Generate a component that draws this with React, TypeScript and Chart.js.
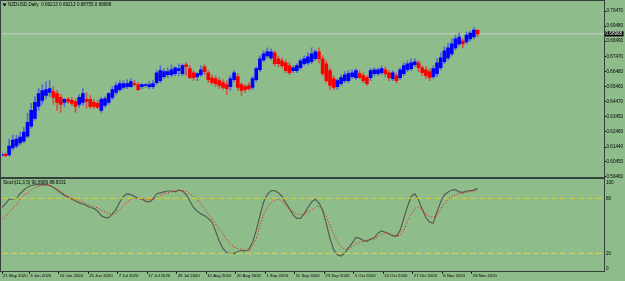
import React, { useEffect, useRef } from "react";
import { Chart, registerables } from "chart.js";

Chart.register(...registerables);

// ---------- data (NZDUSD Daily, 22 May 2020 .. 19 Nov 2020) ----------
const openP = [
  0.6088, 0.6095, 0.6091, 0.6138, 0.6151, 0.6171, 0.6184, 0.6217, 0.6283, 0.6335,
  0.6414, 0.6454, 0.6487, 0.6507, 0.6513, 0.65, 0.6474, 0.6441, 0.6461, 0.6454,
  0.6447, 0.6428, 0.6441, 0.6461, 0.6461, 0.6441, 0.6434, 0.6388, 0.6421, 0.6441,
  0.6474, 0.6507, 0.6526, 0.654, 0.6546, 0.6546, 0.6566, 0.6559, 0.6546, 0.6553,
  0.6546, 0.6546, 0.6572, 0.6586, 0.6612, 0.6625, 0.6625, 0.6632, 0.6652, 0.6632,
  0.6691, 0.6665, 0.6638, 0.6612, 0.6625, 0.6678, 0.6638, 0.6605, 0.6599, 0.6586,
  0.6572, 0.6559, 0.6546, 0.6592, 0.6612, 0.6559, 0.6546, 0.6553, 0.654, 0.6592,
  0.6658, 0.6724, 0.675, 0.6737, 0.677, 0.6731, 0.6718, 0.6704, 0.6685, 0.6652,
  0.6652, 0.6671, 0.6698, 0.6704, 0.6711, 0.6731, 0.6777, 0.6731, 0.6698, 0.6652,
  0.6599, 0.6546, 0.6566, 0.6586, 0.6586, 0.6612, 0.6606, 0.6632, 0.6619, 0.6606,
  0.6606, 0.6632, 0.6632, 0.6638, 0.6658, 0.6638, 0.6599, 0.6619, 0.6606, 0.6632,
  0.6658, 0.6665, 0.6691, 0.6704, 0.6671, 0.6658, 0.6645, 0.6612, 0.6632, 0.6671,
  0.6711, 0.6737, 0.6764, 0.6803, 0.683, 0.6849, 0.6843, 0.6863, 0.6876, 0.69213,
];
const highP = [
  0.6111, 0.6105, 0.6197, 0.6223, 0.6223, 0.6243, 0.6276, 0.6368, 0.6434, 0.648,
  0.6533, 0.6559, 0.6579, 0.6586, 0.6546, 0.652, 0.6493, 0.6467, 0.6474, 0.6474,
  0.6461, 0.6493, 0.6533, 0.6507, 0.6487, 0.6461, 0.6454, 0.6474, 0.648, 0.6507,
  0.6546, 0.6572, 0.6586, 0.6586, 0.6592, 0.6599, 0.6586, 0.6572, 0.6566, 0.6566,
  0.6579, 0.6586, 0.6652, 0.6685, 0.6665, 0.6671, 0.6691, 0.6678, 0.6698, 0.6698,
  0.6704, 0.6685, 0.6652, 0.6638, 0.6685, 0.6691, 0.6652, 0.6625, 0.6619, 0.6605,
  0.6592, 0.6586, 0.6619, 0.6652, 0.6632, 0.6572, 0.6559, 0.6572, 0.6612, 0.6678,
  0.675, 0.6783, 0.6803, 0.6797, 0.6783, 0.675, 0.6737, 0.6724, 0.6704, 0.6685,
  0.6698, 0.6731, 0.675, 0.677, 0.6803, 0.679, 0.6803, 0.675, 0.6718, 0.6665,
  0.6619, 0.6599, 0.6625, 0.6645, 0.6652, 0.6658, 0.6665, 0.6652, 0.6638, 0.6619,
  0.6665, 0.6671, 0.6671, 0.6685, 0.6678, 0.6652, 0.6652, 0.6638, 0.6671, 0.6704,
  0.6718, 0.6731, 0.6731, 0.6718, 0.6685, 0.6678, 0.6665, 0.6685, 0.6731, 0.677,
  0.681, 0.6836, 0.6863, 0.6889, 0.6902, 0.6863, 0.6909, 0.6915, 0.6942, 0.69213,
];
const lowP = [
  0.6078, 0.6078, 0.6085, 0.6124, 0.6138, 0.6157, 0.6171, 0.6204, 0.6269, 0.6322,
  0.6388, 0.6428, 0.6467, 0.648, 0.6428, 0.6388, 0.6375, 0.6414, 0.6434, 0.6421,
  0.6375, 0.6408, 0.6421, 0.6401, 0.6401, 0.6401, 0.6401, 0.6375, 0.6408, 0.6428,
  0.6461, 0.6493, 0.6513, 0.6526, 0.6533, 0.654, 0.6553, 0.652, 0.6533, 0.654,
  0.6533, 0.6533, 0.6559, 0.6572, 0.6599, 0.6605, 0.6612, 0.6619, 0.6619, 0.6619,
  0.6619, 0.6599, 0.6586, 0.6586, 0.6612, 0.6625, 0.6572, 0.6559, 0.6546, 0.6533,
  0.6526, 0.6493, 0.652, 0.6579, 0.652, 0.6487, 0.6507, 0.652, 0.6526, 0.6579,
  0.6645, 0.6711, 0.6737, 0.6724, 0.6685, 0.6678, 0.6671, 0.6638, 0.6625, 0.6638,
  0.6638, 0.6658, 0.6685, 0.6691, 0.6698, 0.6718, 0.6704, 0.6619, 0.6572, 0.6526,
  0.6526, 0.6526, 0.6553, 0.6572, 0.6572, 0.6599, 0.6592, 0.6599, 0.6572, 0.6553,
  0.6586, 0.6619, 0.6619, 0.6625, 0.6612, 0.6586, 0.6586, 0.6572, 0.6592, 0.6619,
  0.6645, 0.6652, 0.6678, 0.6645, 0.6619, 0.6599, 0.6586, 0.6599, 0.6612, 0.6658,
  0.6698, 0.6724, 0.675, 0.679, 0.6816, 0.6803, 0.683, 0.6849, 0.6863, 0.68755,
];
const closeP = [
  0.6095, 0.6086, 0.6151, 0.619, 0.6197, 0.621, 0.6243, 0.6309, 0.6388, 0.6441,
  0.65, 0.652, 0.6526, 0.6533, 0.6474, 0.6441, 0.6428, 0.6461, 0.6447, 0.6434,
  0.6414, 0.6474, 0.65, 0.6447, 0.6414, 0.6414, 0.6408, 0.6461, 0.6467, 0.65,
  0.6526, 0.6553, 0.6566, 0.6566, 0.6566, 0.6579, 0.6559, 0.6526, 0.6559, 0.6559,
  0.6559, 0.6566, 0.6638, 0.6652, 0.6645, 0.6645, 0.6658, 0.6671, 0.6665, 0.6685,
  0.6678, 0.6606, 0.6606, 0.6632, 0.6658, 0.6645, 0.6592, 0.6572, 0.6566, 0.6553,
  0.654, 0.6533, 0.6599, 0.6638, 0.654, 0.652, 0.6526, 0.6533, 0.6599, 0.6665,
  0.6731, 0.6764, 0.6777, 0.6777, 0.6698, 0.6698, 0.6685, 0.6652, 0.6638, 0.6671,
  0.6685, 0.6718, 0.6731, 0.6744, 0.6764, 0.6777, 0.6731, 0.6632, 0.6586, 0.6553,
  0.654, 0.6586, 0.6606, 0.6625, 0.6632, 0.6638, 0.6652, 0.6606, 0.6586, 0.6566,
  0.6652, 0.6658, 0.6658, 0.6665, 0.6632, 0.6606, 0.6638, 0.6586, 0.6658, 0.6685,
  0.6698, 0.6704, 0.6711, 0.6671, 0.6638, 0.6619, 0.6606, 0.6665, 0.6704, 0.6737,
  0.6783, 0.6803, 0.683, 0.6863, 0.6876, 0.683, 0.6889, 0.6902, 0.6922, 0.68968,
];
const stochK = [
  70, 74, 79, 79, 80, 85, 89, 92, 94, 95,
  95, 95, 95, 94, 92, 89, 86, 83, 81, 79,
  77, 75, 74, 72, 70, 69, 66, 61, 59, 59,
  63, 68, 76, 82, 85, 84, 82, 80, 79, 77,
  76, 79, 85, 86, 87, 88, 88, 87, 89, 88,
  84, 77, 70, 66, 63, 61, 58, 54, 44, 33,
  25, 21, 20, 20, 22, 23, 22.5, 24, 32, 45,
  61, 76, 84, 88.5, 88.5, 86, 82, 75, 69, 62,
  58, 58, 63, 70, 76, 79, 75, 67, 52, 36,
  24, 18.5, 17, 20, 26, 31, 37, 36.5, 34, 33,
  35.5, 37, 42, 44.5, 43, 41, 39, 38.5, 45, 58,
  71, 82, 85, 78, 68, 59, 54, 53, 65, 76,
  84, 87, 89, 89.5, 87, 86.5, 88, 88.5, 89, 90.8989,
];
const stochD = [
  56, 60, 65, 69, 73, 79, 83, 86, 89, 92,
  93, 94.5, 94.5, 94, 92, 90, 87, 85, 82, 80,
  79, 77, 76, 74, 72, 71, 69.5, 67, 65, 63,
  62.5, 64, 68, 72, 76, 79, 80, 80, 80, 79,
  78.5, 79, 81, 83, 85, 86, 87, 88, 88.5, 88,
  87.5, 85, 82, 79, 74, 68, 63, 58, 52, 46,
  41, 35, 30, 26.5, 25, 24.4, 23, 22.5, 28, 36,
  50, 62, 70, 75, 78, 79, 77, 72, 68, 65.5,
  63, 62.4, 63, 65, 67, 70, 72, 67, 60, 50,
  41, 33, 27, 24.4, 25, 27, 30, 32, 33, 34,
  35, 36, 38, 40.5, 42.5, 41.5, 40, 39, 39.5, 45,
  55, 63, 69, 71, 68, 63, 60, 59, 62, 68,
  74.5, 79, 82, 84, 85, 85.5, 86.5, 87.3, 87.8, 88.9331,
];
const priceTicks = [
  0.7047, 0.6948, 0.6849, 0.6747, 0.6648, 0.6546, 0.6447, 0.6345, 0.6246, 0.6144, 0.6045, 0.5946,
];
const bidPrice = 0.68968;
const stochLevels = [80, 20];
const stochAxisLabels = [100, 80, 20, 0];
const timeLabels = [
  "21 May 2020", "3 Jun 2020", "15 Jun 2020", "25 Jun 2020", "7 Jul 2020", "17 Jul 2020",
  "29 Jul 2020", "10 Aug 2020", "20 Aug 2020", "1 Sep 2020", "11 Sep 2020", "23 Sep 2020",
  "5 Oct 2020", "15 Oct 2020", "27 Oct 2020", "6 Nov 2020", "18 Nov 2020",
];
const timeLabelBars = [0, 8, 16, 24, 32, 40, 48, 56, 64, 72, 80, 88, 96, 104, 112, 120, 128];
const headerText = "NZDUSD,Daily  0.69213 0.69213 0.68755 0.68968";
const stochText = "Stoch(11,3,5) 90.8989 88.9331";

// ---------- styles ----------
const FONT = '"Liberation Sans", Arial, sans-serif';
const FS = 4.6;
const FS_TIME = 4.25;
const BG = "#8FBC8B";
const FRAME = "#34403a";
const UP = "#0000FF";
const DN = "#FF0000";
const WICK_UP = "rgb(85,105,215)";
const WICK_DN = "rgb(205,85,75)";
const X_MIN = 0.08;
const X_MAX = 163.27;
const TICK_SHIFT = -0.55;

export default function App() {
  const mainRef = useRef<HTMLCanvasElement>(null);
  const stochRef = useRef<HTMLCanvasElement>(null);

  useEffect(() => {
    const idx = closeP.map((_, i) => i);
    const isUp = idx.map((i) => closeP[i] >= openP[i]);

    const mainOverlay = {
      id: "mainOverlay",
      afterDraw(chart: any) {
        const { ctx, scales } = chart;
        ctx.save();
        ctx.font = `${FS}px ${FONT}`;
        ctx.fillStyle = "#000";
        ctx.beginPath();
        ctx.moveTo(2.5, 3.6);
        ctx.lineTo(6.5, 3.6);
        ctx.lineTo(4.5, 6.4);
        ctx.closePath();
        ctx.fill();
        ctx.textBaseline = "middle";
        ctx.textAlign = "left";
        ctx.fillText(headerText, 8, 5.2);
        const py = scales.y.getPixelForValue(bidPrice);
        ctx.fillStyle = "#000";
        ctx.fillRect(604, py - 2.6, 19.5, 5.2);
        ctx.fillStyle = "#fff";
        ctx.fillText(bidPrice.toFixed(5), 605.5, py + 0.2);
        ctx.restore();
      },
    };

    const stochOverlay = {
      id: "stochOverlay",
      afterDraw(chart: any) {
        const { ctx, scales, chartArea } = chart;
        ctx.save();
        ctx.font = `${FS}px ${FONT}`;
        ctx.fillStyle = "#000";
        ctx.textBaseline = "middle";
        ctx.textAlign = "left";
        ctx.fillText(stochText, 3, chartArea.top + 2.6);
        for (const v of stochAxisLabels) {
          let py = scales.y.getPixelForValue(v);
          py = Math.max(chartArea.top + 2.6, Math.min(chartArea.bottom - 3, py));
          ctx.fillText(String(v), 606, py);
        }
        ctx.restore();
      },
    };

    const main = new Chart(mainRef.current as HTMLCanvasElement, {
      type: "bar",
      data: {
        datasets: [
          {
            type: "line",
            data: [
              { x: X_MIN, y: bidPrice },
              { x: X_MAX, y: bidPrice },
            ],
            borderColor: "rgb(200,206,198)",
            borderWidth: 1,
            pointRadius: 0,
            order: 3,
          } as any,
          {
            type: "bar",
            data: idx.map((i) => ({ x: i, y: [lowP[i], highP[i]] })),
            backgroundColor: idx.map((i) => (isUp[i] ? WICK_UP : WICK_DN)),
            barThickness: 1,
            grouped: false,
            order: 2,
          } as any,
          {
            type: "bar",
            data: idx.map((i) => ({ x: i, y: [openP[i], closeP[i]] })),
            backgroundColor: idx.map((i) => (isUp[i] ? UP : DN)),
            barThickness: 3,
            minBarLength: 1,
            grouped: false,
            order: 1,
          } as any,
        ],
      },
      options: {
        animation: false,
        responsive: false,
        maintainAspectRatio: false,
        events: [],
        layout: { padding: { left: 2, top: 2, right: 0, bottom: 5 } },
        plugins: { legend: { display: false }, tooltip: { enabled: false } },
        scales: {
          x: {
            type: "linear",
            min: X_MIN,
            max: X_MAX,
            offset: false,
            display: false,
            grid: { offset: false },
          },
          y: {
            type: "linear",
            position: "right",
            min: 0.5945,
            max: 0.71,
            afterFit: (s: any) => {
              s.width = 21;
            },
            afterBuildTicks: (s: any) => {
              s.ticks = priceTicks.map((v) => ({ value: v }));
            },
            ticks: {
              font: { family: FONT, size: FS },
              color: "#000",
              padding: 0.5,
              autoSkip: false,
              callback: (v: any) => Number(v).toFixed(5),
            },
            grid: { drawOnChartArea: false, tickLength: 2, tickColor: "#000" },
            border: { display: false },
          },
        },
      } as any,
      plugins: [mainOverlay],
    });

    const stoch = new Chart(stochRef.current as HTMLCanvasElement, {
      type: "line",
      data: {
        datasets: [
          ...stochLevels.map((lv, j) => ({
            data: [
              { x: X_MIN, y: lv },
              { x: X_MAX, y: lv },
            ],
            borderColor: j === 0 ? "rgb(225,205,35)" : "rgb(222,212,80)",
            borderWidth: 1,
            borderDash: [6, 3],
            pointRadius: 0,
          })),
          {
            data: idx.map((i) => ({ x: i, y: stochD[i] })),
            borderColor: "#FF0000",
            borderWidth: 1,
            borderDash: [1, 2],
            pointRadius: 0,
          },
          {
            data: idx.map((i) => ({ x: i, y: stochK[i] })),
            borderColor: "rgb(88,92,88)",
            borderWidth: 1.2,
            pointRadius: 0,
          },
        ],
      },
      options: {
        animation: false,
        responsive: false,
        maintainAspectRatio: false,
        events: [],
        layout: { padding: { left: 2, top: 1, right: 0, bottom: 0 } },
        plugins: { legend: { display: false }, tooltip: { enabled: false } },
        scales: {
          x: {
            type: "linear",
            min: X_MIN,
            max: X_MAX,
            offset: false,
            afterFit: (s: any) => {
              s.height = 9.4;
            },
            afterBuildTicks: (s: any) => {
              s.ticks = timeLabelBars.map((b) => ({ value: Math.max(X_MIN, b + TICK_SHIFT) }));
            },
            ticks: {
              font: { family: FONT, size: FS_TIME },
              color: "#000",
              align: "start",
              labelOffset: 1.0,
              padding: 0,
              autoSkip: false,
              minRotation: 0,
              maxRotation: 0,
              callback: (_v: any, i: number) => timeLabels[i],
            },
            grid: { drawOnChartArea: false, tickLength: 2, tickColor: "#000" },
            border: { display: false },
          },
          y: {
            type: "linear",
            position: "right",
            min: 0,
            max: 100,
            afterFit: (s: any) => {
              s.width = 21;
            },
            ticks: { display: false },
            grid: { display: false },
            border: { display: false },
          },
        },
      } as any,
      plugins: [stochOverlay],
    });

    return () => {
      main.destroy();
      stoch.destroy();
    };
  }, []);

  const line = (l: number, t: number, w: number, h: number) => (
    <div style={{ position: "absolute", left: l, top: t, width: w, height: h, background: FRAME }} />
  );

  return (
    <div
      style={{
        position: "fixed",
        left: 0,
        top: 0,
        width: 625,
        height: 281,
        background: BG,
        overflow: "hidden",
      }}
    >
      <canvas
        ref={stochRef}
        width={625}
        height={102}
        style={{ position: "absolute", left: 0, top: 179, display: "block" }}
      />
      <canvas
        ref={mainRef}
        width={625}
        height={182}
        style={{ position: "absolute", left: 0, top: 0, display: "block" }}
      />
      {line(0, 0, 605, 1)}
      {line(0, 0, 1, 272)}
      {line(604, 0, 1, 272)}
      {line(0, 177, 605, 2)}
      {line(0, 271, 605, 1)}
    </div>
  );
}
